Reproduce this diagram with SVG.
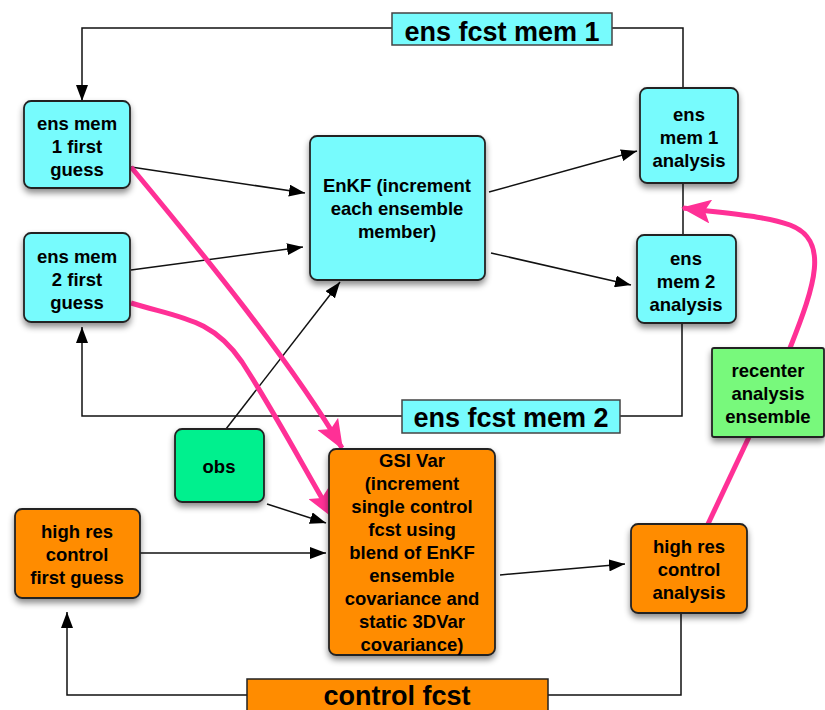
<svg xmlns="http://www.w3.org/2000/svg" width="825" height="710" viewBox="0 0 825 710">
<defs>
<filter id="sh" x="-20%" y="-20%" width="140%" height="150%">
<feDropShadow dx="0" dy="4" stdDeviation="3" flood-color="#000" flood-opacity="0.45"/>
</filter>
<marker id="ah" viewBox="0 0 16 12" refX="16" refY="6" markerWidth="16" markerHeight="12" markerUnits="userSpaceOnUse" orient="auto">
<path d="M0,0 L16,6 L0,12 Z" fill="#000"/>
</marker>
<marker id="ph" viewBox="0 0 30 24" refX="28" refY="12" markerWidth="30" markerHeight="24" markerUnits="userSpaceOnUse" orient="auto">
<path d="M0,0 L30,12 L0,24 L6,12 Z" fill="#FF3096"/>
</marker>
</defs>
<style>
.t{font-family:"Liberation Sans",Arial,sans-serif;font-weight:bold;font-size:18.5px;fill:#000;text-anchor:middle}
.big{font-size:27px}
.box{stroke:#222;stroke-width:1.8}
.cy{fill:#77FBFD}
.or{fill:#FF8C00}
.c{fill:none;stroke:#111;stroke-width:1.5}
.p{fill:none;stroke:#FF3096;stroke-width:5}
</style>
<rect width="825" height="710" fill="#fff"/>
<g id="connectors">
<polyline class="c" points="392,28 82,28 82,101" marker-end="url(#ah)"/>
<polyline class="c" points="612,28 683,28 683,88"/>
<line class="c" x1="683" y1="183" x2="683" y2="235"/>
<polyline class="c" points="682,323 682,416 620,416"/>
<polyline class="c" points="402,416 82,416 82,327" marker-end="url(#ah)"/>
<polyline class="c" points="548,695 681,695 681,613"/>
<polyline class="c" points="247,695 67,695 67,612" marker-end="url(#ah)"/>
<line class="c" x1="131" y1="167" x2="305" y2="193" marker-end="url(#ah)"/>
<line class="c" x1="131" y1="270" x2="303" y2="247" marker-end="url(#ah)"/>
<line class="c" x1="226" y1="429" x2="340" y2="282" marker-end="url(#ah)"/>
<line class="c" x1="489" y1="192" x2="637" y2="151" marker-end="url(#ah)"/>
<line class="c" x1="491" y1="253" x2="631" y2="285" marker-end="url(#ah)"/>
<line class="c" x1="267" y1="504" x2="326" y2="523" marker-end="url(#ah)"/>
<line class="c" x1="140" y1="553" x2="326" y2="553" marker-end="url(#ah)"/>
<line class="c" x1="500" y1="575" x2="625" y2="564" marker-end="url(#ah)"/>
<path class="p" d="M131,167 C200,250 290,360 342,448" marker-end="url(#ph)"/>
<path class="p" d="M131,303 C180,318 212,318 242,362 C278,418 305,470 333,517" marker-end="url(#ph)"/>
<path class="p" d="M790,348 C815,285 830,240 790,225 C765,216 730,214 683,208" marker-end="url(#ph)"/>
<line class="p" x1="708" y1="524" x2="749" y2="437"/>
</g>
<g id="ens-fcst-mem-1">
<rect x="392" y="13" width="220" height="32" fill="#77FBFD" stroke="#444" stroke-width="1.5"/>
<text class="t big" x="502" y="41">ens fcst mem 1</text>
</g>
<g id="ens-fcst-mem-2">
<rect x="402" y="400" width="218" height="33" fill="#77FBFD" stroke="#444" stroke-width="1.5"/>
<text class="t big" x="511" y="427">ens fcst mem 2</text>
</g>
<g id="control-fcst">
<rect x="247" y="679" width="301" height="40" fill="#FF8C00" stroke="#222" stroke-width="1.5"/>
<text class="t big" x="397" y="705">control fcst</text>
</g>
<g id="ens-mem-1-first-guess">
<rect class="box cy" x="24" y="101" width="106" height="87" rx="7" filter="url(#sh)"/>
<text class="t" x="77" y="130">ens mem</text>
<text class="t" x="77" y="153">1 first</text>
<text class="t" x="77" y="176">guess</text>
</g>
<g id="ens-mem-2-first-guess">
<rect class="box cy" x="24" y="233" width="106" height="89" rx="7" filter="url(#sh)"/>
<text class="t" x="77" y="263">ens mem</text>
<text class="t" x="77" y="286">2 first</text>
<text class="t" x="77" y="309">guess</text>
</g>
<g id="enkf">
<rect class="box cy" x="310" y="136" width="175" height="144" rx="7" filter="url(#sh)"/>
<text class="t" x="397" y="192">EnKF (increment</text>
<text class="t" x="397" y="215">each ensemble</text>
<text class="t" x="397" y="238">member)</text>
</g>
<g id="ens-mem-1-analysis">
<rect class="box cy" x="640" y="88" width="98" height="95" rx="7" filter="url(#sh)"/>
<text class="t" x="689" y="121">ens</text>
<text class="t" x="689" y="144">mem 1</text>
<text class="t" x="689" y="167">analysis</text>
</g>
<g id="ens-mem-2-analysis">
<rect class="box cy" x="637" y="235" width="99" height="88" rx="7" filter="url(#sh)"/>
<text class="t" x="686" y="265">ens</text>
<text class="t" x="686" y="288">mem 2</text>
<text class="t" x="686" y="311">analysis</text>
</g>
<g id="obs">
<rect class="box" x="175" y="429" width="89" height="73" rx="7" fill="#00F08E" filter="url(#sh)"/>
<text class="t" x="219" y="473">obs</text>
</g>
<g id="high-res-control-first-guess">
<rect class="box or" x="15" y="509" width="125" height="89" rx="7" filter="url(#sh)"/>
<text class="t" x="77" y="538">high res</text>
<text class="t" x="77" y="561">control</text>
<text class="t" x="77" y="584">first guess</text>
</g>
<g id="gsi-var">
<rect class="box or" x="329" y="449" width="166" height="206" rx="7" filter="url(#sh)"/>
<text class="t" x="412" y="467">GSI Var</text>
<text class="t" x="412" y="490">(increment</text>
<text class="t" x="412" y="513">single control</text>
<text class="t" x="412" y="536">fcst using</text>
<text class="t" x="412" y="559">blend of EnKF</text>
<text class="t" x="412" y="582">ensemble</text>
<text class="t" x="412" y="605">covariance and</text>
<text class="t" x="412" y="628">static 3DVar</text>
<text class="t" x="412" y="651">covariance)</text>
</g>
<g id="high-res-control-analysis">
<rect class="box or" x="631" y="524" width="116" height="89" rx="7" filter="url(#sh)"/>
<text class="t" x="689" y="553">high res</text>
<text class="t" x="689" y="576">control</text>
<text class="t" x="689" y="599">analysis</text>
</g>
<g id="recenter-analysis-ensemble">
<rect class="box" x="712" y="348" width="112" height="89" rx="2" fill="#78F97C" filter="url(#sh)"/>
<text class="t" x="768" y="377">recenter</text>
<text class="t" x="768" y="400">analysis</text>
<text class="t" x="768" y="423">ensemble</text>
</g>
</svg>
